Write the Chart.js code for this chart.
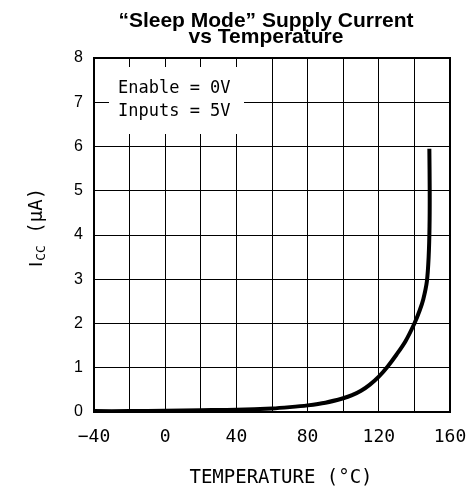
<!DOCTYPE html>
<html>
<head>
<meta charset="utf-8">
<script src="https://cdn.jsdelivr.net/npm/chart.js@4.4.1/dist/chart.umd.min.js"></script>
<style>
  html, body { margin: 0; padding: 0; background: #fff; }
  canvas { display: block; }
</style>
</head>
<body>
<canvas id="c" width="472" height="491"></canvas>
<script>
// ---- data ----
const temperatures = [-40, -20, 0, 20, 40, 60, 70, 80, 90, 100, 105, 110, 115, 120, 125, 130, 135, 140, 143, 145, 147, 148, 148.5, 148.6, 148.4];
const supplyCurrent = [0.02, 0.02, 0.03, 0.04, 0.05, 0.08, 0.11, 0.15, 0.21, 0.31, 0.38, 0.48, 0.62, 0.8, 1.03, 1.3, 1.6, 2.0, 2.3, 2.55, 2.95, 3.5, 4.2, 5.0, 5.95];
const xTickLabels = ['\u221240', '0', '40', '80', '120', '160'];
const xTickValues = [-40, 0, 40, 80, 120, 160];
const titleLines = ['\u201cSleep Mode\u201d Supply Current', 'vs Temperature'];
const noteLines = ['Enable = 0V', 'Inputs = 5V'];
const xTitle = 'TEMPERATURE (\u00b0C)';
const yTitleParts = ['I', 'CC', ' (\u03bcA)'];

const MONO = "'DejaVu Sans Mono', monospace";
const SANS = "'Liberation Sans', Arial, sans-serif";

const points = temperatures.map((t, i) => ({ x: t, y: supplyCurrent[i] }));

const annot = {
  id: 'annot',
  beforeDatasetsDraw(chart) {
    const { ctx, chartArea: a } = chart;
    ctx.save();
    // white note box over the grid
    ctx.fillStyle = '#fff';
    ctx.fillRect(a.left + 15, a.top + 9, 135, 67);
    // frame
    ctx.strokeStyle = '#000';
    ctx.lineWidth = 2;
    ctx.strokeRect(a.left, a.top, a.right - a.left, a.bottom - a.top);
    // note text
    ctx.fillStyle = '#000';
    ctx.font = '17px ' + MONO;
    ctx.textAlign = 'left';
    ctx.textBaseline = 'alphabetic';
    ctx.fillText(noteLines[0], a.left + 24, a.top + 35);
    ctx.fillText(noteLines[1], a.left + 24, a.top + 58);
    ctx.restore();
  },
  afterDraw(chart) {
    const { ctx } = chart;
    ctx.save();
    ctx.fillStyle = '#000';
    // title
    ctx.font = 'bold 21px ' + SANS;
    ctx.textAlign = 'center';
    ctx.textBaseline = 'alphabetic';
    ctx.fillText(titleLines[0], 266, 27);
    ctx.fillText(titleLines[1], 266, 42.5);
    // x title
    ctx.font = '19px ' + MONO;
    ctx.fillText(xTitle, 281, 483);
    // y title (rotated, with subscript)
    ctx.translate(42, 267);
    ctx.rotate(-Math.PI / 2);
    ctx.textAlign = 'left';
    let x = 0;
    ctx.font = '19px ' + SANS;
    ctx.fillText(yTitleParts[0], x, 0);
    x += ctx.measureText(yTitleParts[0]).width + 1;
    ctx.font = '13px ' + MONO;
    ctx.fillText(yTitleParts[1], x, 3);
    x += ctx.measureText(yTitleParts[1]).width;
    ctx.font = '19px ' + MONO;
    ctx.fillText(yTitleParts[2], x, 0);
    ctx.restore();
  }
};

new Chart(document.getElementById('c'), {
  type: 'line',
  data: {
    datasets: [{
      data: points,
      borderColor: '#000',
      borderWidth: 4,
      pointRadius: 0,
      fill: false,
      tension: 0.3,
      borderCapStyle: 'butt'
    }]
  },
  options: {
    responsive: false,
    devicePixelRatio: 1,
    animation: false,
    layout: { padding: { top: 58, right: 22, left: 0, bottom: 0 } },
    plugins: { legend: { display: false }, tooltip: { enabled: false }, title: { display: false } },
    scales: {
      x: {
        type: 'linear',
        min: -40, max: 160,
        afterFit(s) { s.height = 79; s.paddingLeft = 0; s.paddingRight = 0; },
        border: { display: false },
        grid: { color: '#000', lineWidth: 1, drawTicks: false },
        ticks: {
          stepSize: 20,
          padding: 15,
          color: '#000',
          font: { family: MONO, size: 18 },
          maxRotation: 0,
          autoSkip: false,
          callback(v) {
            const i = xTickValues.indexOf(v);
            return i >= 0 ? xTickLabels[i] : '';
          }
        }
      },
      y: {
        min: 0, max: 8,
        afterFit(s) { s.width = 94; s.paddingTop = 0; s.paddingBottom = 0; },
        border: { display: false },
        grid: { color: '#000', lineWidth: 1, drawTicks: false },
        ticks: {
          stepSize: 1,
          padding: 11,
          color: '#000',
          font: { family: SANS, size: 16 }
        }
      }
    }
  },
  plugins: [annot]
});
</script>
</body>
</html>
